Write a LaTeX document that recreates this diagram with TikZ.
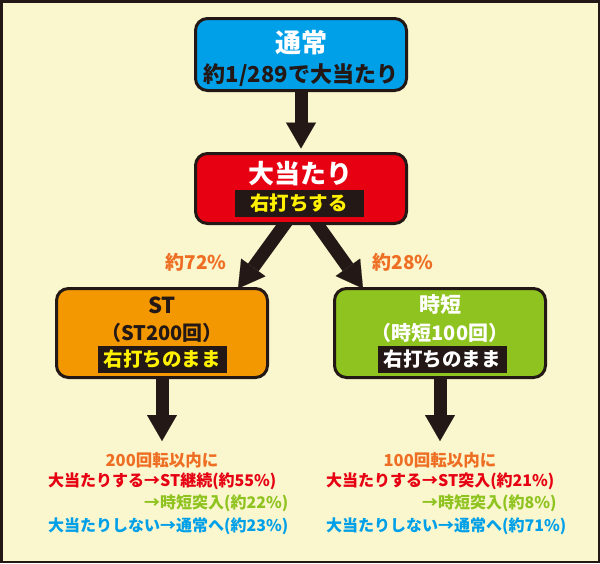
\documentclass[tikz,border=0pt]{standalone}
\usepackage{fontspec}
\setmainfont{Noto Sans CJK JP}
\usetikzlibrary{arrows.meta}
\usetikzlibrary{backgrounds}
\usepackage{xcolor}
\definecolor{cream}{HTML}{FAF6CE}
\definecolor{ink}{HTML}{231815}
\definecolor{skyblue}{HTML}{00A0E9}
\definecolor{hitred}{HTML}{E60012}
\definecolor{storange}{HTML}{F39800}
\definecolor{jitangreen}{HTML}{8FC31F}
\definecolor{signyellow}{HTML}{FFF100}
\definecolor{pctorange}{HTML}{EE6E23}

\begin{document}
\begin{tikzpicture}[x=1pt, y=-1pt,
  box/.style={draw=ink, line width=3pt, rounded corners=12pt, minimum width=211pt, inner sep=0pt, outer sep=0pt},
  txt/.style={inner sep=0pt, font=\fontsize{#1}{#1}\selectfont\bfseries},
  txt/.default=16,
  sign/.style={fill=ink, minimum width=129pt, minimum height=27pt, inner sep=0pt, font=\fontsize{19.5}{19.5}\selectfont\bfseries},
  bigarrow/.style={draw=ink, line width=13pt, -{Triangle[length=26pt, width=30pt, line width=0.1pt]}}]
\useasboundingbox (0,0) rectangle (600,563);
\begin{scope}[on background layer]
\fill[cream] (0,0) rectangle (600,563);
\draw[ink, line width=2.5pt] (1.25,1.25) rectangle (598.75,561.75);
\end{scope}
% boxes
\node[box, fill=skyblue, minimum height=72pt] (normal) at (301,54.5) {};
\node[box, fill=hitred, minimum height=70pt] (hit) at (301,188.5) {};
\node[box, fill=storange, minimum height=89pt] (st) at (162,333) {};
\node[box, fill=jitangreen, minimum height=89pt] (jitan) at (440,333) {};
% texts in boxes
\node[txt=26, text=white] (normal-title) at (301,43) {通常};
\node[txt=22, text=ink] (normal-odds) at (301,75) {約1/289で大当たり};
\node[txt=26, text=white] (hit-title) at (300,174) {大当たり};
\node[sign, text=signyellow] (hit-sign) at (299,203.5) {右打ちする};
\node[txt=22, text=ink] (st-title) at (162,305) {ST};
\node[txt=20, text=ink] (st-count) at (162,333) {（ST200回）};
\node[sign, text=signyellow] (st-sign) at (162,359.5) {右打ちのまま};
\node[txt=21, text=white] (jitan-title) at (440,305) {時短};
\node[txt=20, text=white] (jitan-count) at (440,333) {（時短100回）};
\node[sign, text=white] (jitan-sign) at (442,359.5) {右打ちのまま};
\node[txt=19, text=pctorange] (st-pct) at (196,262) {約72\%};
\node[txt=19, text=pctorange] (jitan-pct) at (403,262) {約28\%};
\begin{scope}[on background layer]
\draw[bigarrow] (normal.south) -- ([yshift=5pt]hit.north);
\draw[bigarrow] ([xshift=-10pt,yshift=8pt]hit.south) -- ([xshift=76pt]st.north);
\draw[bigarrow] ([xshift=10pt,yshift=8pt]hit.south) -- ([xshift=-77pt]jitan.north);
\end{scope}
% results below ST and jitan
\foreach \nm/\x/\kai/\keizoku/\pa/\pb/\pc in {st/162/200/ST継続/55/22/23, jitan/440/100/ST突入/21/8/71} {
 \node[txt=16.5, text=pctorange] (\nm-kai) at (\x,460) {\kai 回転以内に};
 \node[txt, text=hitred, anchor=west] (\nm-win) at (\x-114,481) {大当たりする→\keizoku(約\pa\%)};
 \node[txt, text=jitangreen, anchor=west] (\nm-short) at (\x-114,503) {\phantom{大当たりする}→時短突入(約\pb\%)};
 \node[txt, text=skyblue, anchor=west] (\nm-lose) at (\x-114,526) {大当たりしない→通常へ(約\pc\%)};
 \begin{scope}[on background layer]
 \draw[bigarrow] (\nm.south) -- ([yshift=19pt]\nm-kai.center);
 \end{scope}
}
\end{tikzpicture}
\end{document}
